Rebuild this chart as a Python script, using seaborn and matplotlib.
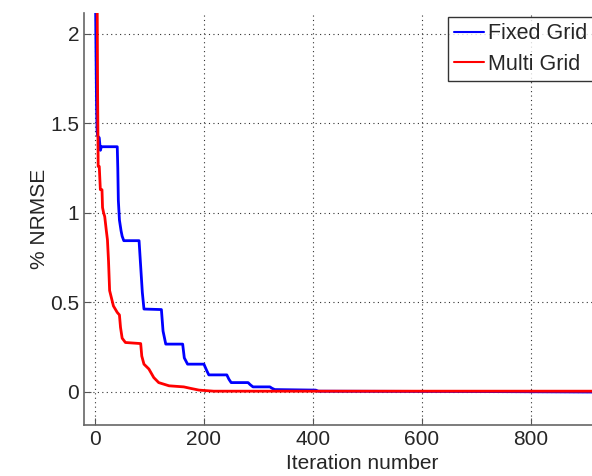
import pandas as pd
import matplotlib
matplotlib.use("Agg")
import matplotlib.pyplot as plt
import seaborn as sns

# Values
fixed_iter = [0, 2, 3, 4, 5, 8, 10, 12, 41, 42, 43, 45, 48, 50, 53, 81, 84, 87, 90,
              122, 125, 130, 161, 164, 170, 200, 205, 209, 242, 246, 250, 281, 285,
              290, 321, 325, 330, 405, 410, 700, 1000]
fixed_nrmse = [2.6, 1.9, 1.6, 1.46, 1.43, 1.42, 1.35, 1.37, 1.37, 1.25, 1.07, 0.96,
               0.90, 0.87, 0.845, 0.845, 0.70, 0.556, 0.463, 0.46, 0.34, 0.267, 0.267,
               0.19, 0.155, 0.155, 0.12, 0.095, 0.095, 0.07, 0.052, 0.052, 0.04, 0.028,
               0.028, 0.02, 0.013, 0.01, 0.004, 0.002, -0.002]

multi_iter = [0, 4, 5, 6, 8, 10, 13, 14, 16, 18, 21, 23, 25, 27, 34, 41, 45, 47, 50,
              56, 84, 86, 90, 99, 108, 117, 136, 163, 175, 191, 218, 1000]
multi_nrmse = [4.0, 2.3, 1.66, 1.26, 1.26, 1.13, 1.13, 1.03, 1.0, 0.98, 0.9, 0.85,
               0.73, 0.566, 0.48, 0.444, 0.43, 0.36, 0.30, 0.276, 0.27, 0.2, 0.155,
               0.128, 0.08, 0.052, 0.034, 0.028, 0.02, 0.01, 0.004, 0.004]

df = pd.concat([
    pd.DataFrame({"Iteration": fixed_iter, "NRMSE": fixed_nrmse, "Method": "Fixed Grid"}),
    pd.DataFrame({"Iteration": multi_iter, "NRMSE": multi_nrmse, "Method": "Multi Grid"}),
])

sns.set_style("white")
plt.rcParams["font.family"] = ["Liberation Sans", "DejaVu Sans"]
plt.rcParams["xtick.direction"] = "in"
plt.rcParams["ytick.direction"] = "in"

fig = plt.figure(figsize=(5.92, 4.76), dpi=100)
ax = fig.add_axes([84 / 592, 51 / 476, 556 / 592, 412.5 / 476])

sns.lineplot(data=df, x="Iteration", y="NRMSE", hue="Method",
             palette={"Fixed Grid": "#0000ff", "Multi Grid": "#ff0000"},
             estimator=None, sort=False, linewidth=2, ax=ax)

ax.set_xlim(-20, 1000)
ax.set_ylim(-0.185, 2.12)
ax.set_xticks([0, 200, 400, 600, 800])
ax.set_yticks([0, 0.5, 1, 1.5, 2])
ax.set_yticklabels(["0", "0.5", "1", "1.5", "2"])
ax.grid(True, linestyle=(0, (1, 3)), color="#333333", linewidth=0.8)
ax.tick_params(labelsize=15, length=5, color="#555555", bottom=True, left=True)

for side in ["top", "right"]:
    ax.spines[side].set_visible(False)
for side in ["left", "bottom"]:
    ax.spines[side].set_color("#666666")
    ax.spines[side].set_linewidth(1.2)

ax.set_xlabel("Iteration number", fontsize=15)
ax.set_ylabel("% NRMSE", fontsize=15, labelpad=1)

leg = ax.legend(loc="upper left", bbox_to_anchor=(448 / 592, 1 - 17 / 476),
                bbox_transform=fig.transFigure, fontsize=15.5, frameon=True,
                fancybox=False, handlelength=1.35, handletextpad=0.2,
                borderpad=0.3, labelspacing=0.42, borderaxespad=0)
leg.get_frame().set_edgecolor("black")
leg.get_frame().set_linewidth(1.0)
for line in leg.get_lines():
    line.set_linewidth(1.5)

fig.savefig("out.png", dpi=100)
